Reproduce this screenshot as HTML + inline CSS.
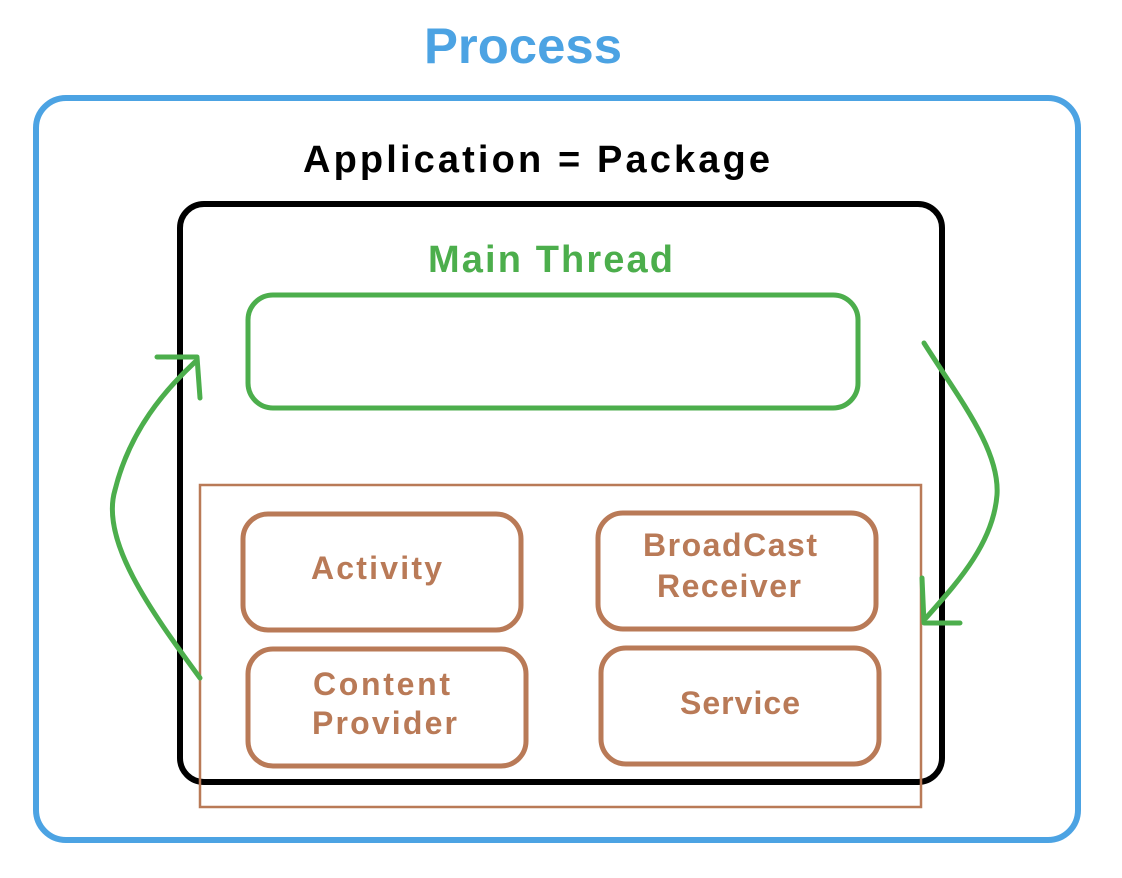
<!DOCTYPE html>
<html><head><meta charset="utf-8"><style>
html,body{margin:0;padding:0;background:#fff;width:1122px;height:878px;overflow:hidden}
svg text{font-family:"Liberation Sans",sans-serif;font-weight:bold}
</style></head><body>
<svg width="1122" height="878" viewBox="0 0 1122 878" xmlns="http://www.w3.org/2000/svg">
<text x="424" y="63" textLength="198" lengthAdjust="spacingAndGlyphs" font-size="50" fill="#4ca3e3">Process</text>
<rect x="36" y="98" width="1042" height="742" rx="30" fill="none" stroke="#4ca3e3" stroke-width="6"/>
<text x="303" y="172" textLength="467" lengthAdjust="spacing" font-size="38" fill="#000">Application = Package</text>
<rect x="180" y="204" width="762" height="578" rx="24" fill="none" stroke="#000" stroke-width="6"/>
<text x="428" y="272" textLength="245" lengthAdjust="spacing" font-size="38" fill="#4cae4c">Main Thread</text>
<rect x="248" y="295" width="610" height="113" rx="25" fill="none" stroke="#4cae4c" stroke-width="5"/>
<rect x="200" y="485" width="721" height="322" fill="none" stroke="#b97a57" stroke-width="2.5"/>
<g fill="none" stroke="#b97a57" stroke-width="5">
<rect x="243" y="514" width="278" height="116" rx="25"/>
<rect x="598" y="513" width="278" height="116" rx="25"/>
<rect x="248" y="649" width="278" height="117" rx="25"/>
<rect x="601" y="648" width="278" height="116" rx="25"/>
</g>
<g fill="#b97a57" font-size="32">
<text x="311" y="579" textLength="131" lengthAdjust="spacing">Activity</text>
<text x="643" y="556" textLength="174" lengthAdjust="spacing">BroadCast</text>
<text x="657" y="597" textLength="144" lengthAdjust="spacing">Receiver</text>
<text x="313" y="695" textLength="137" lengthAdjust="spacing">Content</text>
<text x="312" y="734" textLength="145" lengthAdjust="spacing">Provider</text>
<text x="680" y="714" textLength="120" lengthAdjust="spacing">Service</text>
</g>
<g fill="none" stroke="#4cae4c" stroke-width="5" stroke-linecap="round" stroke-linejoin="round">
<path d="M200 678 C150 610 100 540 115 490 C130 430 165 390 195 362"/>
<path d="M157 357 L197 357 L200 398"/>
<path d="M924 343 C960 400 1000 450 997 495 C993 545 955 585 926 618"/>
<path d="M922 578 L924 623 L960 623"/>
</g>
</svg>
</body></html>
